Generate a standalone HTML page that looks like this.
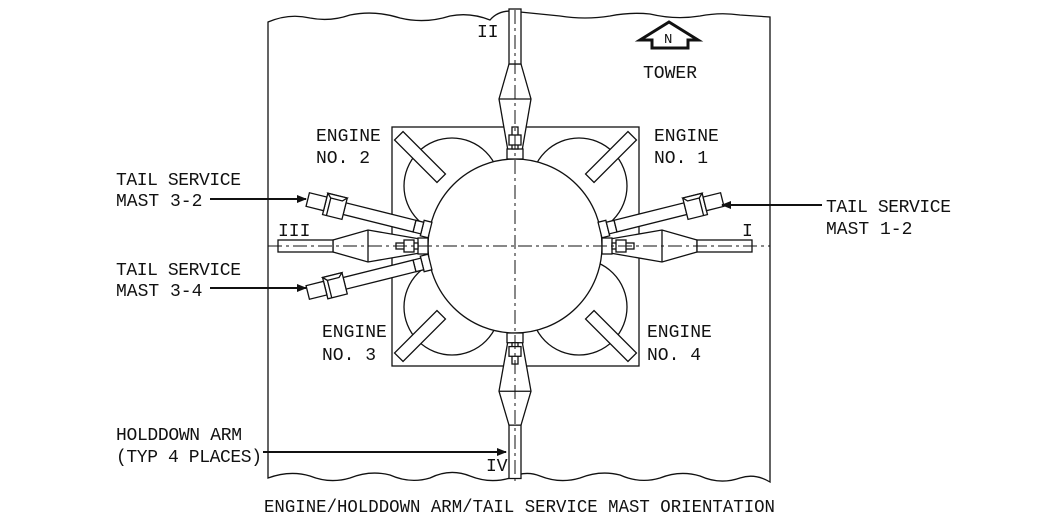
<!DOCTYPE html>
<html><head><meta charset="utf-8"><style>
html,body{margin:0;padding:0;background:#fff}
svg text{font-family:"Liberation Mono",monospace;font-size:18px;fill:#111}
</style></head><body>
<svg width="1039" height="521" viewBox="0 0 1039 521" xmlns="http://www.w3.org/2000/svg">
<defs>
<marker id="ah" markerWidth="10" markerHeight="8" refX="9" refY="4" orient="auto" markerUnits="userSpaceOnUse"><path d="M0,0 L10,4 L0,8 z" fill="#111"/></marker>
<g id="arm" fill="#fff" stroke="#111" stroke-width="1.3">
<polygon points="-8,-7 -60,-16 -95,-6 -95,6 -60,16 -8,7"/>
<line x1="-60" y1="-16" x2="-60" y2="16"/>
<rect x="-150" y="-6" width="55" height="12"/>
<rect x="-10" y="-8" width="10" height="16"/>
<rect x="-32" y="-3" width="22" height="6"/>
<rect x="-24" y="-6" width="10" height="12"/>
</g>
<g id="mast" fill="#fff" stroke="#111" stroke-width="1.3">
<rect x="-8" y="-8" width="8" height="16"/>
<rect x="-16" y="-6" width="8" height="12"/>
<rect x="-88" y="-6" width="72" height="12"/>
<rect x="-108" y="-11" width="20" height="22"/>
<polygon points="-104,-7 -92,-7 -88,-11 -108,-11" />
<line x1="-104" y1="-7" x2="-104" y2="11"/>
<rect x="-126" y="-7" width="18" height="14"/>
</g>
</defs>
<path d="M268,22 Q289,13 310,18 Q330,22 350,15 Q375,10 400,18 Q425,24 450,16 Q470,12 490,20 Q500,8 520,12 Q540,14 560,16 Q585,20 610,16 Q630,12 650,14 Q675,20 700,16 Q720,12 740,15 L770,17 L770,482 Q755,473 740,478 Q720,485 700,476 Q680,470 660,478 Q640,484 620,475 Q600,470 580,478 Q560,484 540,476 Q525,470 510,478 Q490,484 470,476 Q450,468 430,478 Q410,484 390,475 Q370,470 350,478 Q330,484 310,476 Q290,470 268,478 Z" fill="#fff" stroke="#111" stroke-width="1.3"/>
<rect x="392" y="127" width="247" height="239" fill="none" stroke="#111" stroke-width="1.3"/>
<g fill="#fff" stroke="#111" stroke-width="1.3">
<circle cx="452" cy="186" r="48"/><circle cx="579" cy="186" r="48"/>
<circle cx="452" cy="307" r="48"/><circle cx="579" cy="307" r="48"/>
<rect x="-30" y="-6" width="60" height="12" transform="translate(420,157) rotate(45)"/>
<rect x="-30" y="-6" width="60" height="12" transform="translate(611,157) rotate(-45)"/>
<rect x="-30" y="-6" width="60" height="12" transform="translate(420,336) rotate(-45)"/>
<rect x="-30" y="-6" width="60" height="12" transform="translate(611,336) rotate(45)"/>
<circle cx="515" cy="246" r="87"/>
</g>
<use href="#arm" transform="translate(428,246)"/>
<use href="#arm" transform="translate(602,246) rotate(180)"/>
<use href="#arm" transform="translate(515,159) rotate(90)"/>
<use href="#arm" transform="translate(515,333) rotate(-90) scale(0.97,1)"/>
<use href="#mast" transform="translate(430,230) rotate(14)"/>
<use href="#mast" transform="translate(430,262) rotate(-14)"/>
<use href="#mast" transform="translate(600,230) scale(-1,1) rotate(14)"/>
<g stroke="#111" stroke-width="1" stroke-dasharray="14,4,3,4" fill="none">
<line x1="268" y1="246" x2="770" y2="246"/>
<line x1="515" y1="10" x2="515" y2="482"/>
</g>
<path d="M669,22 L698,40 L688,40 L688,48 L652,48 L652,40 L640,40 Z" fill="#fff" stroke="#111" stroke-width="3" stroke-linejoin="miter"/>
<text x="664" y="43" style="font-size:14px">N</text>
<text x="643" y="78">TOWER</text>
<text x="477" y="37">II</text>
<text x="278" y="236">III</text>
<text x="742" y="236">I</text>
<text x="486" y="471">IV</text>
<text x="316" y="141">ENGINE</text><text x="316" y="163">NO. 2</text>
<text x="654" y="141">ENGINE</text><text x="654" y="163">NO. 1</text>
<text x="322" y="337">ENGINE</text><text x="322" y="360">NO. 3</text>
<text x="647" y="337">ENGINE</text><text x="647" y="360">NO. 4</text>
<text x="116" y="185" textLength="125">TAIL SERVICE</text><text x="116" y="206">MAST 3-2</text>
<text x="116" y="275" textLength="125">TAIL SERVICE</text><text x="116" y="296">MAST 3-4</text>
<text x="826" y="212" textLength="125">TAIL SERVICE</text><text x="826" y="234">MAST 1-2</text>
<text x="116" y="440" textLength="126">HOLDDOWN ARM</text><text x="116" y="462" textLength="146">(TYP 4 PLACES)</text>
<text x="264" y="512" textLength="511" lengthAdjust="spacingAndGlyphs">ENGINE/HOLDDOWN ARM/TAIL SERVICE MAST ORIENTATION</text>
<g stroke="#111" stroke-width="2" marker-end="url(#ah)">
<line x1="210" y1="199" x2="306" y2="199"/>
<line x1="210" y1="288" x2="306" y2="288"/>
<line x1="822" y1="205" x2="722" y2="205"/>
<line x1="263" y1="452" x2="506" y2="452"/>
</g>
</svg>
</body></html>
